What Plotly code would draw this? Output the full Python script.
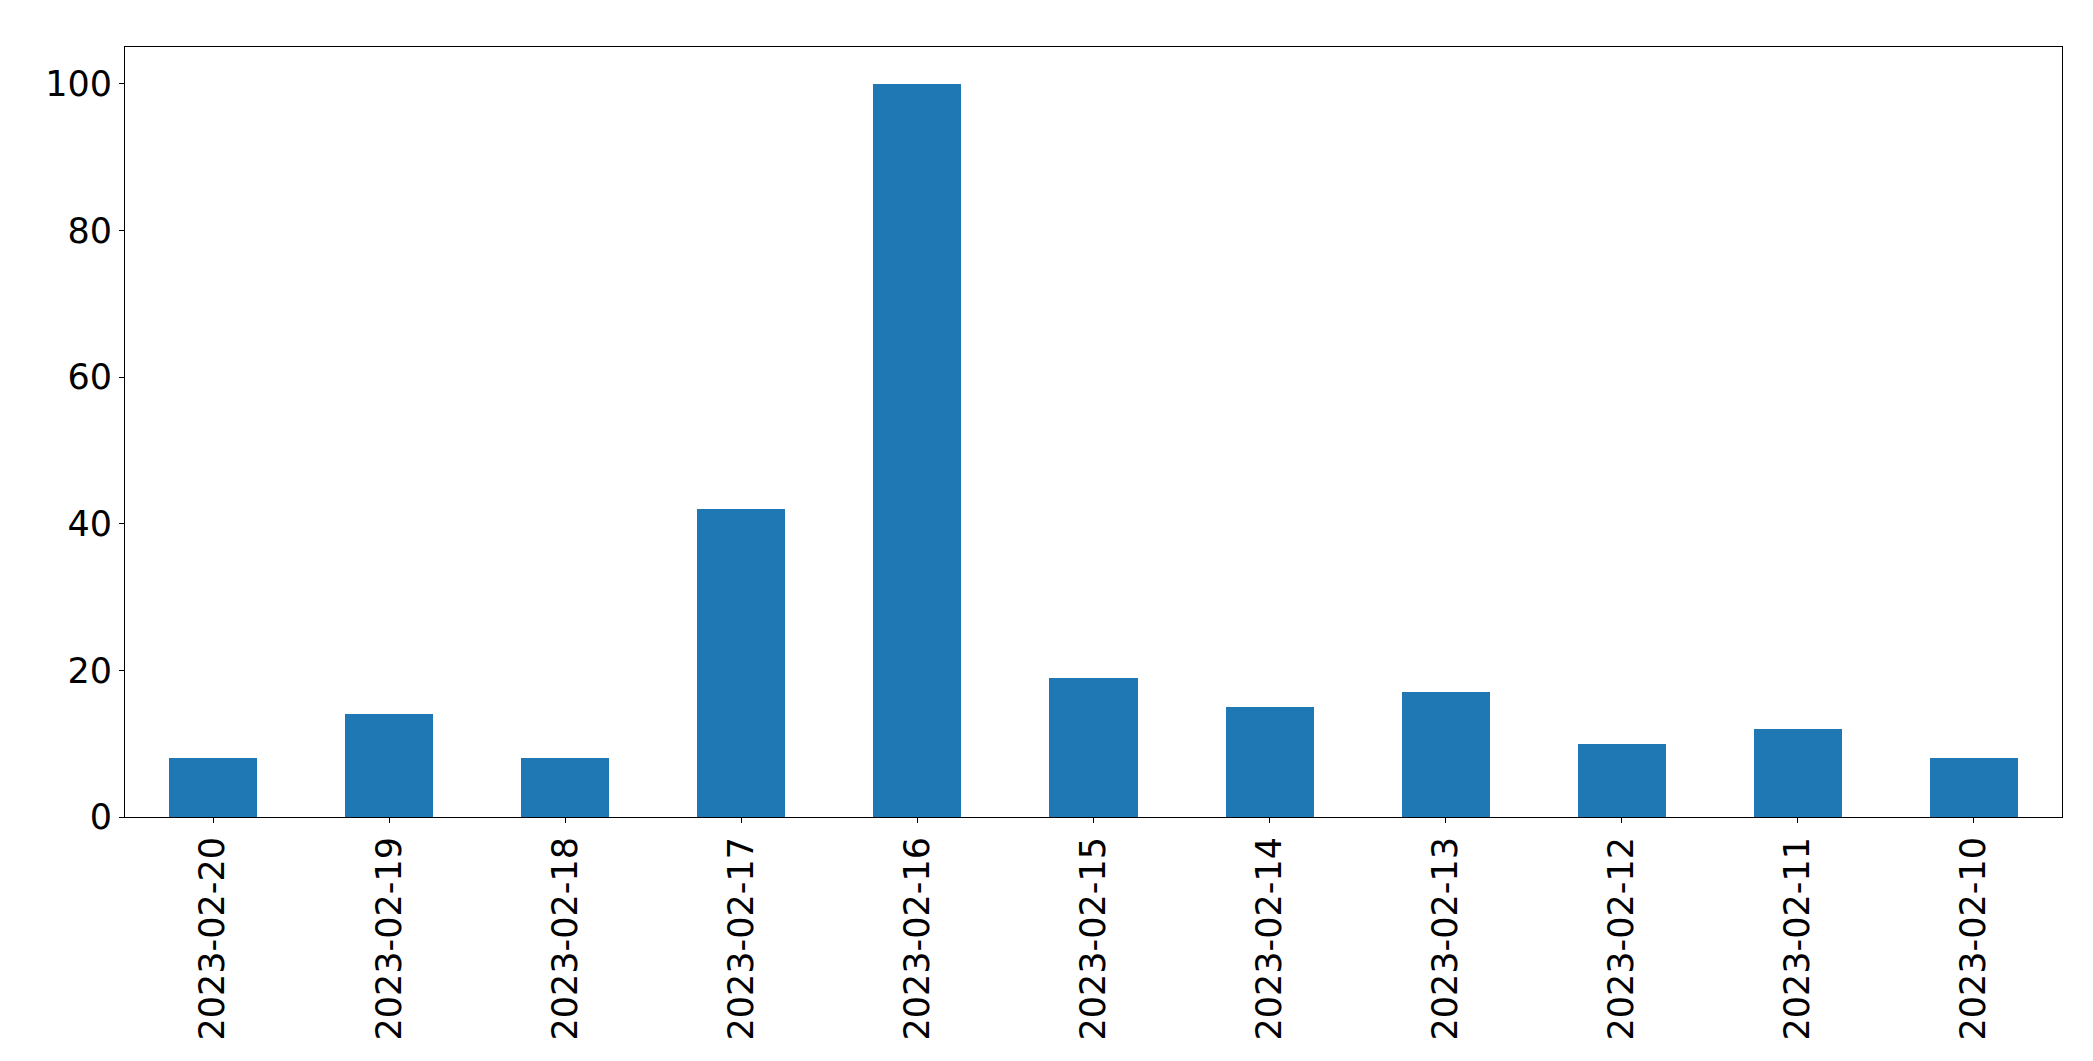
import plotly.graph_objects as go

dates = ["2023-02-20", "2023-02-19", "2023-02-18", "2023-02-17", "2023-02-16",
         "2023-02-15", "2023-02-14", "2023-02-13", "2023-02-12", "2023-02-11", "2023-02-10"]
counts = [8, 14, 8, 42, 100, 19, 15, 17, 10, 12, 8]
y_ticks = [0, 20, 40, 60, 80, 100]

fig = go.Figure()
fig.add_trace(go.Bar(x=dates, y=counts, width=0.5, marker=dict(color="#1f77b4", line=dict(width=0))))

axis_common = dict(showline=True, linecolor="black", linewidth=1.1, mirror=True,
                   ticks="outside", ticklen=5, tickwidth=1.1, tickcolor="black",
                   showgrid=False, zeroline=False,
                   tickfont=dict(family="DejaVu Sans", size=35, color="black"))

fig.update_xaxes(type="category", range=[-0.5, 10.5], tickangle=-90, **axis_common)
fig.update_yaxes(range=[0, 105], tickvals=y_ticks, **axis_common)

fig.update_layout(width=2093, height=1061, autosize=False,
                  margin=dict(l=117, r=39, t=39, b=252),
                  paper_bgcolor="white", plot_bgcolor="white",
                  showlegend=False, bargap=0)

fig.write_html("out.html")
